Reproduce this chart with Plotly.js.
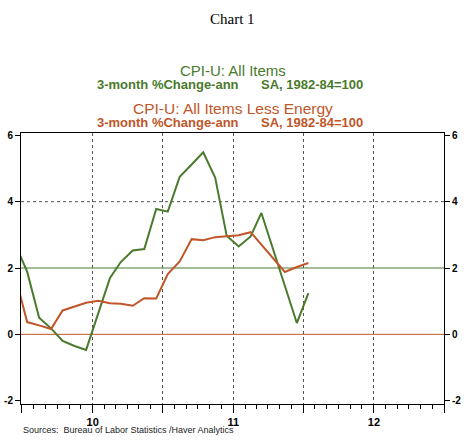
<!DOCTYPE html>
<html>
<head>
<meta charset="utf-8">
<script src="https://cdn.plot.ly/plotly-3.0.1.min.js"></script>
<style>html,body{margin:0;padding:0;background:#fff;}#chart{width:466px;height:441px;}</style>
</head>
<body>
<div id="chart"></div>
<script>
// Monthly observations (plotted mid-month)
var months = ['2009-06-15','2009-07-15','2009-08-15','2009-09-15','2009-10-15','2009-11-15','2009-12-15',
  '2010-01-15','2010-02-15','2010-03-15','2010-04-15','2010-05-15','2010-06-15','2010-07-15','2010-08-15',
  '2010-09-15','2010-10-15','2010-11-15','2010-12-15','2011-01-15','2011-02-15','2011-03-15','2011-04-15',
  '2011-05-15','2011-06-15','2011-07-15'];
// CPI-U: All Items, 3-month % change annualized
var cpiAll = [2.69,1.89,0.50,0.18,-0.20,-0.35,-0.47,0.60,1.70,2.18,2.53,2.57,3.78,3.70,4.75,5.12,5.49,4.73,2.97,2.65,2.95,3.66,2.55,1.45,0.34,1.24];
// CPI-U: All Items Less Energy, 3-month % change annualized
var cpiLessEnergy = [1.72,0.37,0.27,0.16,0.72,0.84,0.95,1.01,0.94,0.92,0.86,1.09,1.08,1.82,2.20,2.87,2.84,2.93,2.95,2.99,3.08,2.71,2.29,1.88,2.03,2.15];

var xTickVals = ['2009-07-01','2010-01-01','2010-07-01','2011-01-01','2011-07-01','2012-01-01','2012-07-01'];
var xTickText = ['','10','','11','','12',''];
var yTickVals = [-2,0,2,4,6];
var yTickText = ['-2','0','2','4','6'];
var refGreenLevel = 2, refOrangeLevel = 0, dashedLevel = 4;

var green = '#4a7a2c', orange = '#c0562a';
var sans = 'Liberation Sans, Arial, sans-serif';

var traces = [
  {x: months, y: cpiAll, type: 'scatter', mode: 'lines', line: {color: green, width: 2}, hoverinfo: 'skip'},
  {x: months, y: cpiLessEnergy, type: 'scatter', mode: 'lines', line: {color: orange, width: 2}, hoverinfo: 'skip'},
  {x: [], y: [], yaxis: 'y2', type: 'scatter', mode: 'lines', hoverinfo: 'skip'}
];

var yax = {
  range: [-2.1, 6.07], tickvals: yTickVals, ticktext: yTickText,
  ticks: 'outside', ticklen: 5, tickcolor: '#000', tickwidth: 1,
  showgrid: false, zeroline: false, showline: true, linecolor: '#000', linewidth: 1,
  tickfont: {family: sans, size: 10, color: '#000', weight: 'bold'}
};
var yax2 = Object.assign({}, yax, {overlaying: 'y', side: 'right'});

var layout = {
  width: 466, height: 441,
  margin: {l: 21, r: 22, t: 133, b: 37},
  paper_bgcolor: '#fff', plot_bgcolor: '#fff',
  showlegend: false,
  xaxis: {
    type: 'date', range: ['2009-06-29', '2012-07-01'],
    tickvals: xTickVals, ticktext: xTickText,
    ticks: 'outside', ticklen: 8, tickcolor: '#000', tickwidth: 1,
    showgrid: true, gridcolor: '#555', griddash: '3px,3px', gridwidth: 1,
    showline: true, linecolor: '#000', linewidth: 1, mirror: true,
    zeroline: false,
    tickfont: {family: sans, size: 11, color: '#000', weight: 'bold'},
    minor: {dtick: 'M1', tick0: '2009-07-01', ticks: 'outside', ticklen: 4, tickcolor: '#000', showgrid: false}
  },
  yaxis: yax,
  yaxis2: yax2,
  shapes: [
    {type: 'line', xref: 'paper', x0: 0, x1: 1, yref: 'y', y0: dashedLevel, y1: dashedLevel, line: {color: '#555', width: 1, dash: '3px,3px'}, layer: 'below'},
    {type: 'line', xref: 'paper', x0: 0, x1: 1, yref: 'y', y0: refGreenLevel, y1: refGreenLevel, line: {color: green, width: 1}, layer: 'below'},
    {type: 'line', xref: 'paper', x0: 0, x1: 1, yref: 'y', y0: refOrangeLevel, y1: refOrangeLevel, line: {color: orange, width: 1}, layer: 'below'}
  ],
  annotations: [
    {text: 'Chart 1', xref: 'paper', yref: 'paper', x: 0.5, y: 1.4207, xanchor: 'center', yanchor: 'middle', showarrow: false,
     font: {family: 'Liberation Serif, Times New Roman, serif', size: 15, color: '#000'}},
    {text: 'CPI-U: All Items', xref: 'paper', yref: 'paper', x: 0.5, y: 1.2288, xanchor: 'center', yanchor: 'middle', showarrow: false,
     font: {family: sans, size: 15, color: green}},
    {text: '3-month %Change-ann', xref: 'paper', yref: 'paper', x: 0.1747, y: 1.179, xanchor: 'left', yanchor: 'middle', showarrow: false,
     font: {family: sans, size: 13, color: green, weight: 'bold'}},
    {text: 'SA, 1982-84=100', xref: 'paper', yref: 'paper', x: 0.562, y: 1.179, xanchor: 'left', yanchor: 'middle', showarrow: false,
     font: {family: sans, size: 13, color: green, weight: 'bold'}},
    {text: 'CPI-U: All Items Less Energy', xref: 'paper', yref: 'paper', x: 0.5, y: 1.0911, xanchor: 'center', yanchor: 'middle', showarrow: false,
     font: {family: sans, size: 15.5, color: orange}},
    {text: '3-month %Change-ann', xref: 'paper', yref: 'paper', x: 0.1747, y: 1.038, xanchor: 'left', yanchor: 'middle', showarrow: false,
     font: {family: sans, size: 13, color: orange, weight: 'bold'}},
    {text: 'SA, 1982-84=100', xref: 'paper', yref: 'paper', x: 0.562, y: 1.038, xanchor: 'left', yanchor: 'middle', showarrow: false,
     font: {family: sans, size: 13, color: orange, weight: 'bold'}},
    {text: 'Sources:  Bureau of Labor Statistics /Haver Analytics', xref: 'paper', yref: 'paper', x: 0, y: -0.095, xanchor: 'left', yanchor: 'middle', showarrow: false,
     font: {family: sans, size: 9, color: '#222'}}
  ]
};

Plotly.newPlot('chart', traces, layout, {staticPlot: true, displayModeBar: false});
</script>
</body>
</html>
